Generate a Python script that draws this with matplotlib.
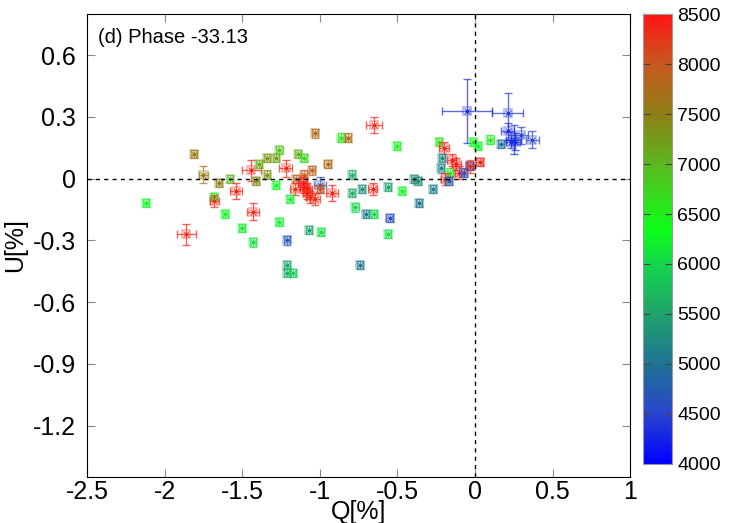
import numpy as np
import matplotlib
matplotlib.use("Agg")
import matplotlib.pyplot as plt
from matplotlib.colors import LinearSegmentedColormap, Normalize

plt.rcParams['font.family'] = ['Liberation Sans', 'DejaVu Sans']

# Stokes Q, U (%) with errors, coloured by wavelength (Angstrom)
q = [-2.12, -1.86, -1.81, -1.75, -1.68, -1.68, -1.65, -1.58, -1.54, -1.61,
     -1.43, -1.50, -1.43, -1.44, -1.39, -1.34, -1.28, -1.26, -1.34, -1.41,
     -1.28, -1.22, -1.14, -1.10, -1.15, -1.10, -1.05, -1.03, -0.95, -0.86,
     -0.82, -1.00, -1.00, -1.16, -1.19, -1.11, -1.10, -1.08, -1.06, -1.03,
     -1.08, -0.92, -1.26, -1.07, -0.99, -1.21, -1.21, -1.21, -1.17, -0.79,
     -0.79, -0.73, -0.77, -0.70, -0.65, -0.74, -0.65, -0.50, -0.23, -0.20,
     -0.21, -0.22, -0.15, -0.16, -0.12, -0.10, -0.07, -0.03, -0.03, 0.03,
     -0.19, -0.17, -0.39, -0.37, -0.56, -0.66, -0.47, -0.27, -0.36, -0.55,
     -0.56, -0.05, 0.21, -0.01, 0.02, 0.10, 0.17, 0.21, 0.25, 0.26,
     0.30, 0.23, 0.37]
u = [-0.12, -0.27, 0.12, 0.02, -0.09, -0.11, -0.02, 0.00, -0.06, -0.17,
     -0.16, -0.24, -0.31, 0.04, 0.07, 0.10, 0.10, 0.14, 0.02, -0.01,
     -0.03, 0.05, 0.12, 0.10, 0.00, 0.02, 0.04, 0.22, 0.07, 0.20,
     0.20, -0.03, -0.05, -0.05, -0.10, -0.02, -0.04, -0.07, -0.09, -0.10,
     -0.05, -0.07, -0.21, -0.25, -0.26, -0.30, -0.42, -0.46, -0.46, 0.02,
     -0.07, -0.05, -0.14, -0.17, -0.17, -0.42, 0.26, 0.16, 0.18, 0.15,
     0.10, 0.05, 0.09, 0.03, 0.07, 0.03, 0.03, 0.06, 0.06, 0.08,
     0.00, -0.01, 0.00, -0.01, -0.04, -0.05, -0.06, -0.05, -0.12, -0.19,
     -0.27, 0.33, 0.32, 0.18, 0.16, 0.19, 0.17, 0.23, 0.19, 0.18,
     0.21, 0.18, 0.19]
q_err = [0.02, 0.06, 0.02, 0.03, 0.02, 0.03, 0.02, 0.02, 0.04, 0.02,
         0.04, 0.02, 0.02, 0.06, 0.02, 0.02, 0.02, 0.02, 0.02, 0.02,
         0.02, 0.04, 0.02, 0.02, 0.02, 0.02, 0.02, 0.02, 0.02, 0.02,
         0.02, 0.04, 0.02, 0.03, 0.02, 0.03, 0.03, 0.03, 0.03, 0.03,
         0.03, 0.04, 0.02, 0.02, 0.02, 0.02, 0.02, 0.02, 0.02, 0.02,
         0.02, 0.02, 0.02, 0.02, 0.02, 0.02, 0.05, 0.02, 0.02, 0.03,
         0.02, 0.02, 0.03, 0.02, 0.03, 0.03, 0.02, 0.02, 0.03, 0.02,
         0.03, 0.02, 0.02, 0.02, 0.02, 0.03, 0.02, 0.02, 0.02, 0.02,
         0.02, 0.16, 0.10, 0.02, 0.02, 0.02, 0.02, 0.04, 0.05, 0.03,
         0.04, 0.03, 0.04]
u_err = [0.02, 0.05, 0.02, 0.04, 0.02, 0.03, 0.02, 0.02, 0.04, 0.02,
         0.04, 0.02, 0.02, 0.05, 0.02, 0.02, 0.02, 0.02, 0.02, 0.02,
         0.02, 0.04, 0.02, 0.02, 0.02, 0.02, 0.02, 0.02, 0.02, 0.02,
         0.02, 0.04, 0.02, 0.03, 0.02, 0.03, 0.03, 0.03, 0.03, 0.03,
         0.03, 0.04, 0.02, 0.02, 0.02, 0.02, 0.02, 0.02, 0.02, 0.02,
         0.02, 0.02, 0.02, 0.02, 0.02, 0.02, 0.04, 0.02, 0.02, 0.03,
         0.02, 0.02, 0.03, 0.02, 0.03, 0.03, 0.02, 0.02, 0.03, 0.02,
         0.03, 0.02, 0.02, 0.02, 0.02, 0.03, 0.02, 0.02, 0.02, 0.02,
         0.02, 0.155, 0.095, 0.02, 0.02, 0.02, 0.02, 0.04, 0.07, 0.04,
         0.04, 0.03, 0.04]
wavelength = [6300, 8400, 7600, 7600, 6400, 8300, 7500, 7000, 8400, 6300,
              8400, 6200, 6100, 8400, 7100, 7300, 7200, 6900, 7300, 7400,
              6300, 8400, 7100, 6700, 7900, 8000, 7900, 7800, 7800, 6500,
              7800, 4600, 8000, 8300, 6200, 8500, 8500, 8400, 8300, 8300,
              8400, 8400, 6200, 5500, 6100, 4700, 5500, 5600, 5900, 5600,
              5600, 5300, 6000, 5100, 6000, 5100, 8400, 6400, 6600, 8400,
              5200, 5200, 8400, 6300, 8400, 8500, 4700, 4400, 8300, 8400,
              8400, 4800, 5300, 5300, 5500, 8400, 6300, 5100, 5000, 4600,
              6100, 4300, 4400, 6400, 6300, 6500, 4900, 4300, 4300, 4400,
              4500, 4300, 4500]

palette = [(0.0, (0.0, 0.0, 1.0)),
           (0.111, (0.16, 0.27, 0.80)),
           (0.222, (0.12, 0.45, 0.58)),
           (0.333, (0.12, 0.64, 0.42)),
           (0.444, (0.08, 0.84, 0.30)),
           (0.52, (0.05, 1.0, 0.10)),
           (0.667, (0.36, 0.72, 0.12)),
           (0.778, (0.55, 0.50, 0.08)),
           (0.889, (0.78, 0.35, 0.12)),
           (1.0, (1.0, 0.08, 0.08))]
cmap = LinearSegmentedColormap.from_list('wl', palette)
norm = Normalize(4000, 8500)

fig = plt.figure(figsize=(7.47, 5.23), dpi=100)
ax = fig.add_axes([0.1165, 0.088, 0.727, 0.885])
cax = fig.add_axes([0.861, 0.113, 0.039, 0.86])

for qi, ui, qe, ue, wl in zip(q, u, q_err, u_err, wavelength):
    c = cmap(norm(wl))
    ax.errorbar(qi, ui, xerr=qe, yerr=ue, fmt='none', ecolor=c,
                elinewidth=1, capsize=3, capthick=1, alpha=0.7)
    ax.plot(qi, ui, marker='s', ms=6, mfc='none', mec=c, mew=1.2, alpha=0.35)
    ax.plot(qi, ui, marker='x', ms=4, color=c, mew=0.9, alpha=0.75)
    ax.plot(qi, ui, marker='.', ms=3, color=c)

ax.axhline(0, color='black', ls='--', lw=1, dashes=(3, 3))
ax.axvline(0, color='black', ls='--', lw=1, dashes=(3, 3))

ax.set_xlim(-2.5, 1)
ax.set_ylim(-1.45, 0.8)
ax.set_xticks([-2.5, -2, -1.5, -1, -0.5, 0, 0.5, 1])
ax.set_xticklabels(['-2.5', '-2', '-1.5', '-1', '-0.5', '0', '0.5', '1'])
ax.set_yticks([0.6, 0.3, 0, -0.3, -0.6, -0.9, -1.2])
ax.set_yticklabels(['0.6', '0.3', '0', '-0.3', '-0.6', '-0.9', '-1.2'])
ax.tick_params(direction='in', top=True, right=True, length=6,
               color='#888888', labelsize=18)
ax.tick_params(axis='x', pad=2)
ax.tick_params(axis='y', pad=8)
ax.set_xlabel('Q[%]', fontsize=18, labelpad=-3)
ax.set_ylabel('U[%]', fontsize=18, labelpad=4)
ax.text(0.02, 0.97, '(d) Phase -33.13', transform=ax.transAxes,
        fontsize=14.5, va='top', ha='left')

sm = plt.cm.ScalarMappable(cmap=cmap, norm=norm)
cb = fig.colorbar(sm, cax=cax, ticks=np.arange(4000, 8501, 500))
cb.outline.set_edgecolor('#999999')
cax.tick_params(direction='in', length=5, color='#444444', labelsize=14,
                left=True, right=True)

fig.savefig('out.png', dpi=100)
